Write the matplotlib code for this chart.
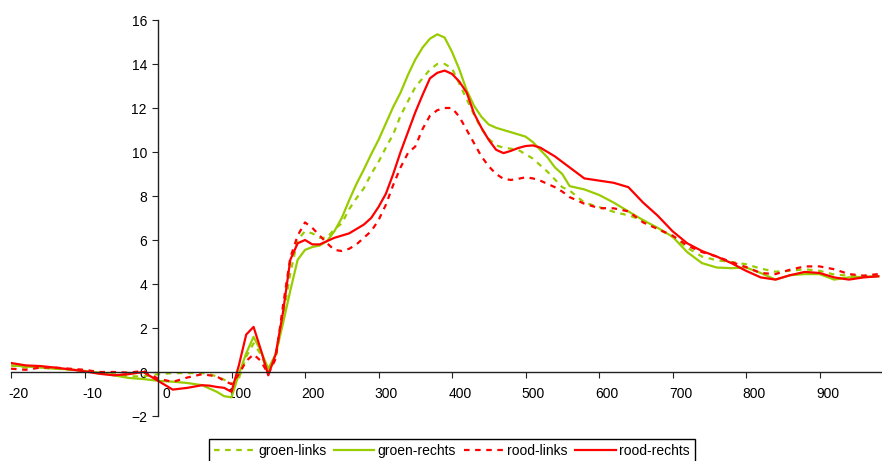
import matplotlib
matplotlib.use("Agg")
import matplotlib.pyplot as plt
from matplotlib.transforms import ScaledTranslation

plt.rcParams['font.family'] = ['Liberation Sans', 'DejaVu Sans']
plt.rcParams['font.size'] = 10

# time axis (ms) - denser where the curves bend most
tijd = [-200, -180, -160, -140, -120, -100, -80, -60, -40, -20, 0, 20, 40, 60,
        70, 80, 90, 100, 110, 120, 130, 140, 150, 160, 170, 180, 190, 200, 210, 220, 230, 240,
        250, 260, 270, 280, 290, 300, 310, 320, 330, 340, 350, 360, 370, 380, 390, 400,
        410, 420, 430, 440, 450, 460, 470, 480, 490, 500, 510, 520, 530, 540, 550, 560,
        580, 600, 620, 640, 660, 680, 700, 720, 740, 760, 780, 800, 820, 840, 860, 880,
        900, 920, 940, 960, 980]

groen_links = [0.3, 0.2, 0.2, 0.15, 0.1, 0.05, 0.0, -0.1, -0.2, -0.2, -0.1, -0.05, -0.05, -0.05,
               -0.1, -0.2, -0.35, -0.55, -0.3, 0.7, 1.3, 0.8, 0.0, 0.6, 2.5, 4.5, 6.0, 6.4, 6.3, 6.1, 6.1, 6.5,
               6.75, 7.4, 7.9, 8.35, 9.0, 9.55, 10.2, 10.8, 11.65, 12.3, 12.95, 13.35, 13.75, 14.0, 14.0, 13.8,
               13.1, 12.4, 11.7, 11.05, 10.6, 10.3, 10.2, 10.15, 10.1, 9.9, 9.7, 9.4, 9.1, 8.75, 8.4, 8.25,
               7.7, 7.5, 7.28, 7.12, 6.9, 6.5, 6.15, 5.65, 5.25, 5.08, 5.0, 4.9, 4.7, 4.56, 4.6, 4.67,
               4.6, 4.43, 4.38, 4.36, 4.36]

groen_rechts = [0.3, 0.25, 0.2, 0.15, 0.12, 0.05, -0.03, -0.15, -0.27, -0.32, -0.4, -0.44, -0.5, -0.6,
                -0.75, -0.9, -1.1, -1.15, -0.1, 0.85, 1.6, 0.95, 0.15, 0.8, 2.2, 3.7, 5.1, 5.55, 5.68, 5.75, 5.95, 6.4,
                7.0, 7.8, 8.55, 9.2, 9.9, 10.55, 11.3, 12.05, 12.7, 13.5, 14.2, 14.75, 15.15, 15.35, 15.2, 14.55,
                13.75, 12.8, 12.1, 11.6, 11.25, 11.1, 11.0, 10.9, 10.8, 10.7, 10.45, 10.1, 9.75, 9.3, 9.0, 8.45,
                8.3, 8.05, 7.7, 7.3, 6.9, 6.55, 6.15, 5.45, 4.95, 4.75, 4.72, 4.75, 4.5, 4.2, 4.4, 4.45,
                4.45, 4.2, 4.3, 4.33, 4.35]

rood_links = [0.15, 0.1, 0.2, 0.2, 0.15, 0.1, 0.0, 0.0, -0.03, 0.05, -0.3, -0.45, -0.25, -0.1,
              -0.15, -0.2, -0.4, -0.55, -0.1, 0.5, 0.8, 0.5, -0.1, 0.6, 3.0, 5.2, 6.2, 6.8, 6.55, 6.2, 5.85, 5.55,
              5.5, 5.6, 5.8, 6.1, 6.4, 6.9, 7.6, 8.5, 9.3, 9.95, 10.25, 11.05, 11.65, 11.9, 12.0, 12.0,
              11.6, 11.0, 10.4, 9.8, 9.35, 9.0, 8.78, 8.73, 8.78, 8.85, 8.8, 8.7, 8.55, 8.4, 8.2, 7.95,
              7.65, 7.45, 7.44, 7.3, 6.8, 6.5, 6.2, 5.75, 5.45, 5.25, 5.0, 4.77, 4.5, 4.45, 4.65, 4.8,
              4.8, 4.67, 4.45, 4.38, 4.45]

rood_rechts = [0.41, 0.3, 0.27, 0.2, 0.12, 0.03, -0.08, -0.15, -0.1, 0.0, -0.4, -0.8, -0.72, -0.6,
               -0.62, -0.68, -0.72, -0.9, 0.3, 1.7, 2.05, 1.0, -0.15, 0.8, 2.7, 5.1, 5.85, 6.0, 5.8, 5.8, 5.95, 6.1,
               6.2, 6.3, 6.5, 6.7, 7.0, 7.5, 8.1, 9.0, 10.0, 10.9, 11.8, 12.6, 13.35, 13.6, 13.7, 13.55,
               13.2, 12.7, 11.75, 11.1, 10.55, 10.1, 9.95, 10.05, 10.18, 10.27, 10.3, 10.2, 10.0, 9.8, 9.55, 9.3,
               8.8, 8.7, 8.6, 8.4, 7.7, 7.1, 6.4, 5.85, 5.5, 5.25, 4.95, 4.6, 4.3, 4.2, 4.4, 4.55,
               4.5, 4.3, 4.2, 4.3, 4.35]

tick_pos = [-200, -100, 0, 100, 200, 300, 400, 500, 600, 700, 800, 900]
tick_labels = ['-20', '-10', '0', '100', '200', '300', '400', '500', '600', '700', '800', '900']

groen = '#99CC00'
rood = '#FF0000'

fig = plt.figure(figsize=(8.82, 4.61), dpi=100)
ax = fig.add_axes([11 / 882, 45 / 461, 871 / 882, 396 / 461])

ax.plot(tijd, groen_links, color=groen, lw=1.6, dashes=(2.5, 2.5), label='groen-links')
ax.plot(tijd, groen_rechts, color=groen, lw=1.6, label='groen-rechts')
ax.plot(tijd, rood_links, color=rood, lw=1.6, dashes=(2.5, 2.5), label='rood-links')
ax.plot(tijd, rood_rechts, color=rood, lw=1.6, label='rood-rechts')

ax.set_xlim(-200, 985)
ax.set_ylim(-2, 16)

# axes cross at the origin, like the spreadsheet chart
ax.spines['left'].set_position(('data', 0))
ax.spines['bottom'].set_position(('data', 0))
ax.spines['right'].set_visible(False)
ax.spines['top'].set_visible(False)
for s in ('left', 'bottom'):
    ax.spines[s].set_color('#222222')
    ax.spines[s].set_linewidth(1.0)

ax.set_yticks(range(-2, 17, 2))
ax.tick_params(axis='y', direction='out', length=4, pad=4, color='#222222')
ax.set_xticks(tick_pos)
ax.set_xticklabels(tick_labels)
ax.tick_params(axis='x', direction='out', length=4, pad=7, color='#222222')

# labels sit a bit right of their tick marks
offset = ScaledTranslation(8 / 100, 0, fig.dpi_scale_trans)
for lbl in ax.get_xticklabels():
    lbl.set_transform(lbl.get_transform() + offset)

leg = fig.legend(loc='upper center', bbox_to_anchor=(452 / 882, 22 / 461), ncol=4,
                 frameon=True, fancybox=False, framealpha=1, edgecolor='black',
                 handlelength=2.9, handletextpad=0.25, columnspacing=0.55,
                 borderpad=0.35, borderaxespad=0)
leg.get_frame().set_linewidth(1.0)

fig.savefig('out.png', dpi=100)
